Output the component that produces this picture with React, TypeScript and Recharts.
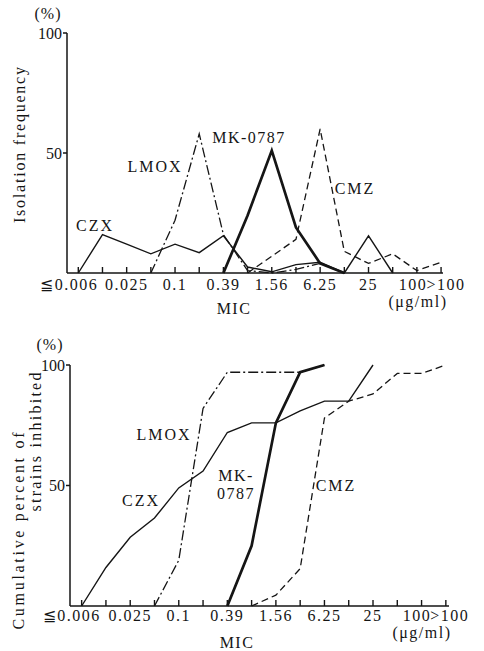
import { LineChart, Line, XAxis, YAxis } from "recharts"

const FONT = '"Liberation Serif", "Times New Roman", serif'
const INK = "#151515"

// MIC dilution steps in µg/ml, one slot per twofold dilution
const micSteps = ["≦0.006", "0.0125", "0.025", "0.05", "0.1", "0.2", "0.39", "0.78", "1.56", "3.13", "6.25", "12.5", "25", "50", "100", ">100"]
const micTickText = ["≦0.006", "", "0.025", "", "0.1", "", "0.39", "", "1.56", "", "6.25", "", "25", "", "100", ">100"]

// Isolation frequency (%) per MIC step
const freqCZX = [0, 16, 12, 8, 12, 8.5, 15.5, 2.5, 0.5, 3.5, 4.5, 0, 15.5, 0, null, null]
const freqLMOX = [null, null, null, 0, 22, 58, 16, 1, 0, 1.5, 4, 0, null, null, null, null]
const freqMK = [null, null, null, null, null, null, 0, 24, 51, 19, 4, 0, null, null, null, null]
const freqCMZ = [null, null, null, null, null, null, null, 0, 7, 14, 60, 9, 4, 8, 1, 4.5]

// Cumulative percent of strains inhibited per MIC step
const cumCZX = [0, 16, 28.5, 36.5, 49, 56, 72, 76, 76, 81, 85, 85, 100, null, null, null]
const cumLMOX = [null, null, null, 0, 19, 82, 97, 97, 97, 97, 100, null, null, null, null, null]
const cumMK = [null, null, null, null, null, null, 0, 25, 76, 97, 100, null, null, null, null, null]
const cumCMZ = [null, null, null, null, null, null, null, 0, 4.5, 15.5, 78, 85, 88, 96.5, 96.5, 100]

const freqData = micSteps.map((mic, i) => ({
  idx: i,
  mic,
  czx: freqCZX[i],
  lmox: freqLMOX[i],
  mk: freqMK[i],
  cmz: freqCMZ[i],
}))

const cumData = micSteps.map((mic, i) => ({
  idx: i,
  mic,
  czx: cumCZX[i],
  lmox: cumLMOX[i],
  mk: cumMK[i],
  cmz: cumCMZ[i],
}))

const stepIndexes = micSteps.map((_, i) => i)

const textStyle = { fontFamily: FONT, fontSize: 16, fill: INK }

// inward tick mark on every step, label on every other step
function MicTick({ x, y, payload, base, shifts }: any) {
  const i = payload.value as number
  const text = micTickText[i]
  let dx = 0
  if (i === 0) dx = shifts[0]
  if (i === 14) dx = shifts[1]
  if (i === 15) dx = shifts[2]
  return (
    <g>
      <line x1={x} x2={x} y1={y - 6} y2={y} stroke={INK} strokeWidth={1.4} />
      {text && (
        <text x={x + dx} y={y + base} textAnchor="middle" {...textStyle} letterSpacing={1.5}>
          {text}
        </text>
      )}
    </g>
  )
}

function Series() {
  return [
    <Line key="czx" type="linear" dataKey="czx" stroke={INK} strokeWidth={1.4} dot={false} isAnimationActive={false} />,
    <Line key="lmox" type="linear" dataKey="lmox" stroke={INK} strokeWidth={1.3} strokeDasharray="10 3 2 3" dot={false} isAnimationActive={false} />,
    <Line key="mk" type="linear" dataKey="mk" stroke={INK} strokeWidth={2.7} dot={false} isAnimationActive={false} />,
    <Line key="cmz" type="linear" dataKey="cmz" stroke={INK} strokeWidth={1.3} strokeDasharray="7 4" dot={false} isAnimationActive={false} />,
  ]
}

export default function App() {
  return (
    <div style={{ position: "absolute", left: 0, top: 0, width: 484, height: 651, background: "#fff" }}>
      {/* Isolation frequency */}
      <div style={{ position: "absolute", left: 0, top: 0 }}>
        <LineChart width={484} height={325} data={freqData} margin={{ top: 33, right: 41, bottom: 0, left: 0 }}>
          <XAxis
            dataKey="idx"
            type="number"
            domain={[-0.467, 15.08]}
            ticks={stepIndexes}
            interval={0}
            height={52}
            tickSize={0}
            tickMargin={0}
            allowDataOverflow
            stroke={INK}
            strokeWidth={1.5}
            tick={(p: any) => <MicTick {...p} base={17} shifts={[-9, -4, 5]} />}
          />
          <YAxis
            type="number"
            domain={[0, 100]}
            ticks={[50, 100]}
            width={67}
            tickSize={4}
            tickMargin={1}
            stroke={INK}
            strokeWidth={1.5}
            tick={textStyle}
          />
          {Series()}
          <text x={48} y={19} textAnchor="middle" {...textStyle} letterSpacing={1}>(%)</text>
          <text transform="translate(25,145) rotate(-90)" textAnchor="middle" {...textStyle} textLength={156} lengthAdjust="spacing">Isolation frequency</text>
          <text x={95} y={231} textAnchor="middle" {...textStyle} letterSpacing={2}>CZX</text>
          <text x={155} y={172} textAnchor="middle" {...textStyle} letterSpacing={2}>LMOX</text>
          <text x={249} y={143} textAnchor="middle" {...textStyle} letterSpacing={1.5}>MK-0787</text>
          <text x={355} y={194} textAnchor="middle" {...textStyle} letterSpacing={2}>CMZ</text>
          <text x={418} y={307} textAnchor="middle" {...textStyle} letterSpacing={1.5}>(μg/ml)</text>
          <text x={234} y={314} textAnchor="middle" {...textStyle} letterSpacing={1.5}>MIC</text>
        </LineChart>
      </div>

      {/* Cumulative percent inhibited */}
      <div style={{ position: "absolute", left: 0, top: 330 }}>
        <LineChart width={484} height={321} data={cumData} margin={{ top: 35, right: 35, bottom: 0, left: 0 }}>
          <XAxis
            dataKey="idx"
            type="number"
            domain={[-0.48, 15.13]}
            ticks={stepIndexes}
            interval={0}
            height={45}
            tickSize={0}
            tickMargin={0}
            allowDataOverflow
            stroke={INK}
            strokeWidth={1.5}
            tick={(p: any) => <MicTick {...p} base={15} shifts={[-10, -4.5, 4]} />}
          />
          <YAxis
            type="number"
            domain={[0, 100]}
            ticks={[50, 100]}
            width={70}
            tickSize={4}
            tickMargin={1}
            stroke={INK}
            strokeWidth={1.5}
            tick={textStyle}
          />
          {Series()}
          <text x={50} y={20} textAnchor="middle" {...textStyle} letterSpacing={1}>(%)</text>
          <text transform="translate(24,201) rotate(-90)" textAnchor="middle" {...textStyle} textLength={197} lengthAdjust="spacing">Cumulative percent of</text>
          <text transform="translate(41,112) rotate(-90)" textAnchor="middle" {...textStyle} textLength={139} lengthAdjust="spacing">strains inhibited</text>
          <text x={164} y={110} textAnchor="middle" {...textStyle} letterSpacing={2}>LMOX</text>
          <text x={141} y={176} textAnchor="middle" {...textStyle} letterSpacing={2}>CZX</text>
          <text x={236} y={151} textAnchor="middle" {...textStyle} letterSpacing={1.5}>MK-</text>
          <text x={236} y={169} textAnchor="middle" {...textStyle} letterSpacing={1.5}>0787</text>
          <text x={336} y={161} textAnchor="middle" {...textStyle} letterSpacing={2}>CMZ</text>
          <text x={422} y={308} textAnchor="middle" {...textStyle} letterSpacing={1.5}>(μg/ml)</text>
          <text x={237} y={318} textAnchor="middle" {...textStyle} letterSpacing={1.5}>MIC</text>
        </LineChart>
      </div>
    </div>
  )
}
